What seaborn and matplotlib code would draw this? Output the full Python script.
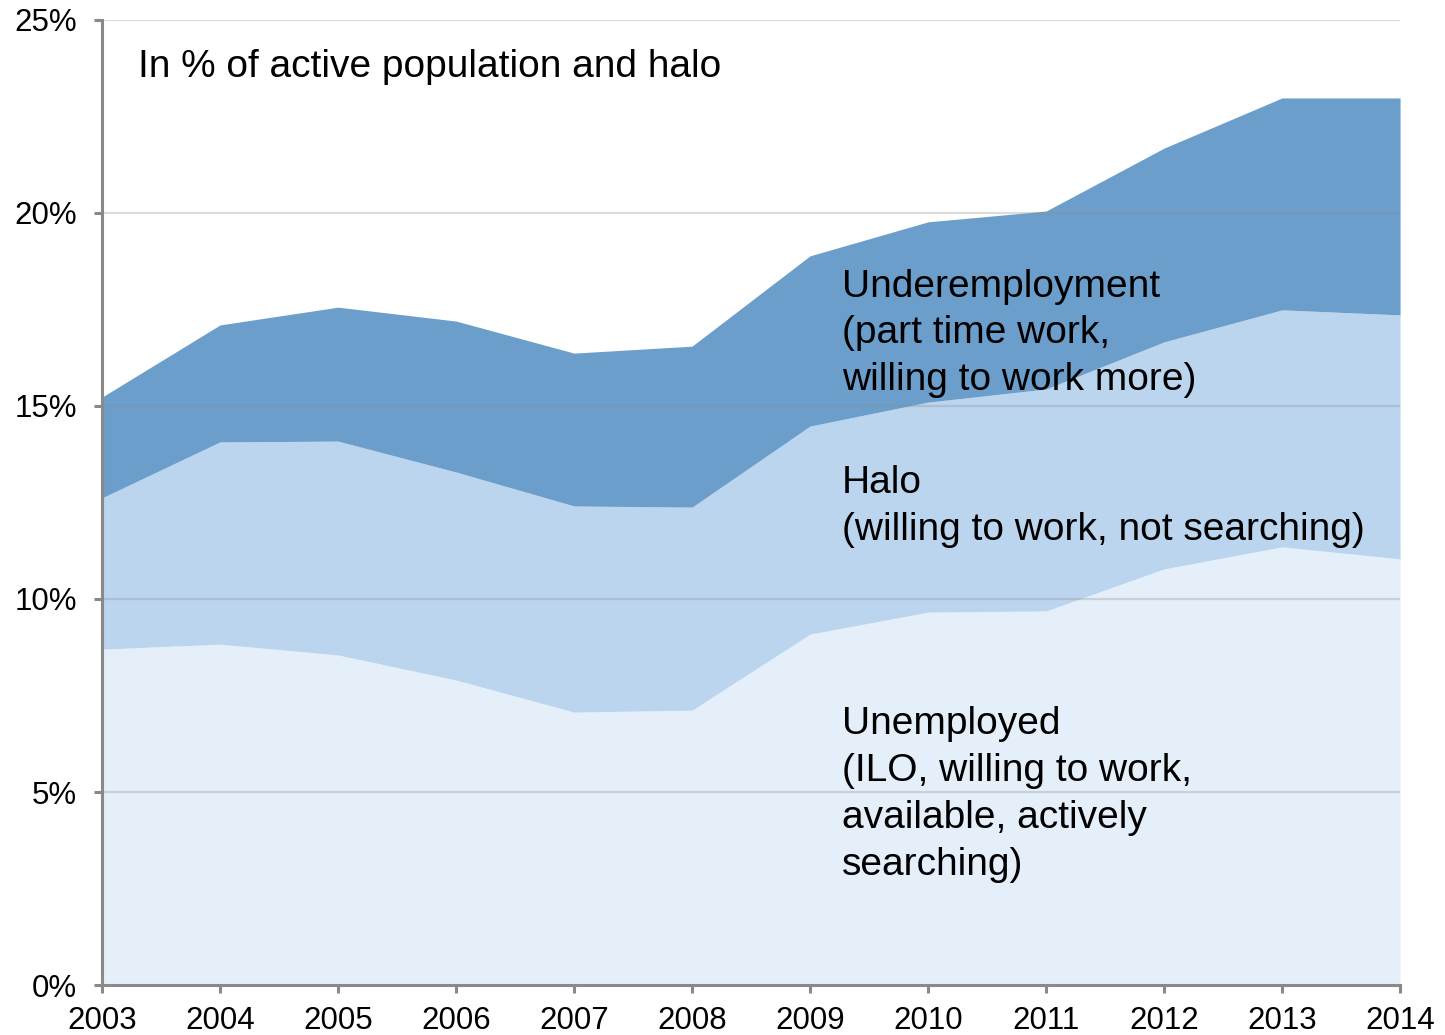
import matplotlib
matplotlib.use("Agg")
import matplotlib.pyplot as plt
import numpy as np
import pandas as pd
import seaborn as sns

# Share of active population plus halo, in %, stacked layers
years = [2003, 2004, 2005, 2006, 2007, 2008, 2009, 2010, 2011, 2012, 2013, 2014]
unemployed = [8.70, 8.83, 8.55, 7.90, 7.07, 7.12, 9.09, 9.66, 9.69, 10.78, 11.35, 11.04]
halo = [3.92, 5.24, 5.54, 5.39, 5.34, 5.26, 5.39, 5.44, 5.75, 5.88, 6.14, 6.32]
underemployment = [2.61, 3.03, 3.47, 3.91, 3.96, 4.17, 4.41, 4.67, 4.61, 5.02, 5.49, 5.62]

y_ticks = [0, 5, 10, 15, 20, 25]
y_tick_labels = ["0%", "5%", "10%", "15%", "20%", "25%"]

layer_names = [
    "Unemployed\n(ILO, willing to work,\navailable, actively\nsearching)",
    "Halo\n(willing to work, not searching)",
    "Underemployment\n(part time work,\nwilling to work more)",
]
title_text = "In % of active population and halo"

sns.set_theme(style="white")
plt.rcParams["font.family"] = ["Liberation Sans", "DejaVu Sans"]

df = pd.DataFrame({
    "year": years,
    "unemployed": unemployed,
    "halo": halo,
    "underemployment": underemployment,
})

colors = ["#e4eff9", "#bbd5ee", "#6b9ecb"]

fig = plt.figure(figsize=(14.45, 10.35), dpi=100)
ax = fig.add_axes([0.0706, 0.0483, 0.8983, 0.9324])

ax.stackplot(df["year"], df["unemployed"], df["halo"], df["underemployment"],
             colors=colors, linewidth=0, zorder=1)

ax.set_xlim(2003, 2014)
ax.set_ylim(0, 25)
ax.set_xticks(years)
ax.set_xticklabels([str(y) for y in years])
ax.set_yticks(y_ticks)
ax.set_yticklabels(y_tick_labels)

# Horizontal gridlines drawn over the filled areas
for yv in y_ticks[1:]:
    ax.axhline(yv, color="#8c8c8c", alpha=0.3, lw=1.6, zorder=2)

sns.despine(ax=ax, top=True, right=True)
for side in ["left", "bottom"]:
    ax.spines[side].set_color("#898989")
    ax.spines[side].set_linewidth(2.2)
    ax.spines[side].set_zorder(5)

ax.tick_params(axis="both", which="major", labelsize=22.5, colors="#898989",
               labelcolor="black", length=6, width=2.2)
ax.tick_params(axis="y", pad=12, left=True)
ax.tick_params(axis="x", pad=9, bottom=True)

text_kw = dict(fontsize=28, color="black", ha="left", va="top", linespacing=1.39, zorder=6)
ax.text(2003.305, 24.24, title_text, **text_kw)
ax.text(2009.27, 18.56, layer_names[2], **text_kw)
ax.text(2009.27, 13.46, layer_names[1], **text_kw)
ax.text(2009.27, 7.22, layer_names[0], **text_kw)

fig.savefig("out.png", dpi=100)
